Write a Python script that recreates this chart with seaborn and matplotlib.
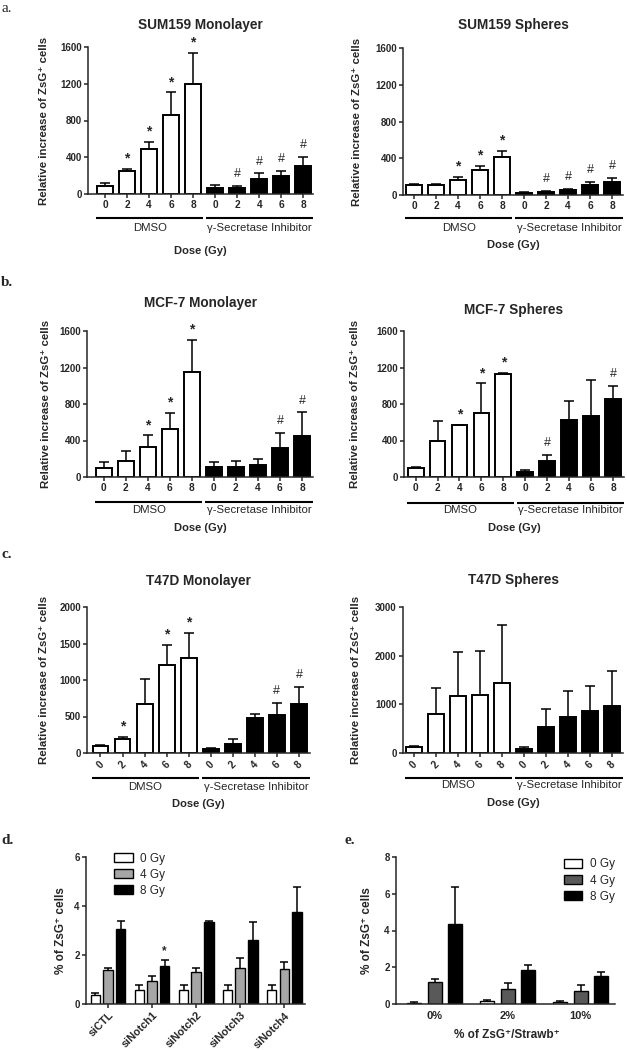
import numpy as np
import pandas as pd
import matplotlib
matplotlib.use("Agg")
import matplotlib.pyplot as plt
import matplotlib.transforms as mtransforms
from matplotlib.patches import Patch
import seaborn as sns

sns.set_style("ticks")
plt.rcParams["font.family"] = ["Liberation Sans", "DejaVu Sans"]

# ---------------- data ----------------
doses = ["0", "2", "4", "6", "8"]
treatments = ["DMSO", "γ-Secretase Inhibitor"]

sum159_mono = [85, 255, 495, 860, 1200, 70, 70, 160, 195, 305]
sum159_mono_err = [35, 15, 70, 245, 330, 25, 20, 65, 60, 100]
sum159_mono_sig = ["", "*", "*", "*", "*", "", "#", "#", "#", "#"]

sum159_sph = [105, 110, 160, 270, 415, 25, 35, 50, 105, 140]
sum159_sph_err = [10, 8, 35, 50, 65, 5, 8, 18, 40, 50]
sum159_sph_sig = ["", "", "*", "*", "*", "", "#", "#", "#", "#"]

mcf7_mono = [100, 180, 325, 530, 1155, 110, 110, 135, 320, 450]
mcf7_mono_err = [65, 100, 130, 170, 350, 55, 70, 65, 165, 260]
mcf7_mono_sig = ["", "", "*", "*", "*", "", "", "", "#", "#"]

mcf7_sph = [100, 400, 565, 705, 1125, 60, 175, 625, 670, 860]
mcf7_sph_err = [5, 210, 8, 320, 15, 20, 70, 210, 390, 140]
mcf7_sph_sig = ["", "", "*", "*", "*", "", "#", "", "", "#"]

t47d_mono = [100, 190, 675, 1200, 1305, 60, 120, 475, 520, 665]
t47d_mono_err = [5, 25, 340, 275, 340, 15, 65, 55, 165, 240]
t47d_mono_sig = ["", "*", "", "*", "*", "", "", "", "#", "#"]

t47d_sph = [130, 800, 1170, 1200, 1445, 85, 530, 735, 865, 975]
t47d_sph_err = [20, 535, 905, 900, 1180, 40, 380, 530, 510, 720]
t47d_sph_sig = [""] * 10

# panel d: siRNA knockdown
sirna = ["siCTL", "siNotch1", "siNotch2", "siNotch3", "siNotch4"]
gy_levels = ["0 Gy", "4 Gy", "8 Gy"]
notch_0 = [0.38, 0.58, 0.58, 0.58, 0.58]
notch_0_err = [0.05, 0.20, 0.20, 0.20, 0.20]
notch_4 = [1.37, 0.93, 1.30, 1.45, 1.43]
notch_4_err = [0.10, 0.20, 0.18, 0.42, 0.27]
notch_8 = [3.05, 1.55, 3.35, 2.60, 3.75]
notch_8_err = [0.35, 0.25, 0.04, 0.75, 1.03]

# panel e: mixing ratio
mix = ["0%", "2%", "10%"]
mix_0 = [0.08, 0.18, 0.13]
mix_0_err = [0.03, 0.05, 0.05]
mix_4 = [1.22, 0.80, 0.72]
mix_4_err = [0.15, 0.33, 0.30]
mix_8 = [4.36, 1.83, 1.52]
mix_8_err = [2.00, 0.30, 0.20]

# ---------------- figure ----------------
W, H = 627, 1050
fig = plt.figure(figsize=(W / 100, H / 100), dpi=100)


def fx(x):
    return x / W


def fy(y):
    return 1 - y / H


def add_box(box):
    l, t, r, b = box
    return fig.add_axes([l / W, 1 - b / H, (r - l) / W, (b - t) / H])


def style_axes(ax, yticks, ylabel, ylab_x, box, ysize=8.2):
    l, t, r, b = box
    ax.set_ylim(0, yticks[-1])
    ax.set_yticks(yticks, labels=[str(v) for v in yticks], fontweight="bold")
    sns.despine(ax=ax)
    for s in ax.spines.values():
        s.set_linewidth(1.1)
    ax.tick_params(length=3, width=1.1, pad=1.5, labelsize=7)
    ax.set_xlabel("")
    ax.set_ylabel(ylabel, fontsize=ysize, fontweight="bold")
    ax.yaxis.set_label_coords((ylab_x - l) / (r - l), 0.5)
    ax.yaxis.label.set_va("center")


def add_errors(ax, xs, vals, errs, capsize=3.3):
    eb = ax.errorbar(xs, vals, yerr=[np.zeros(len(vals)), errs], fmt="none",
                     ecolor="black", elinewidth=1.1, capsize=capsize, capthick=1.1)
    eb[1][0].set_visible(False)


def dose_panel(box, xlim, vals, errs, sig, yticks, title, title_y, ylab_x,
               line_y, group_y, dose_y, rotate=False):
    l, t, r, b = box
    ax = add_box(box)
    conds = [f"{g}|{d}" for g in treatments for d in doses]
    df = pd.DataFrame({"cond": conds,
                       "group": np.repeat(treatments, len(doses)),
                       "value": vals})
    sns.barplot(data=df, x="cond", y="value", hue="group", order=conds,
                hue_order=treatments, palette=["white", "black"], dodge=False,
                width=0.72, saturation=1, edgecolor="black", linewidth=1.4,
                errorbar=None, legend=False, ax=ax)
    bars = sorted([p for c in ax.containers for p in c], key=lambda p: p.get_x())
    xs = np.array([p.get_x() + p.get_width() / 2 for p in bars])
    add_errors(ax, xs, vals, errs)

    for x, v, e, s in zip(xs, vals, errs, sig):
        if s == "*":
            ax.annotate("*", (x, v + e), xytext=(0, 2.5), textcoords="offset points",
                        ha="center", va="bottom", fontsize=10, fontweight="bold")
        elif s == "#":
            ax.annotate("#", (x, v + e), xytext=(0, 4), textcoords="offset points",
                        ha="center", va="bottom", fontsize=9)

    ax.set_xlim(*xlim)
    style_axes(ax, yticks, "Relative increase of ZsG⁺ cells", ylab_x, box)
    ax.set_xticks(range(len(conds)), labels=doses * 2, fontweight="bold", fontsize=7.3,
                  rotation=45 if rotate else 0)

    # group brackets under the axis
    ah = b - t
    trans = mtransforms.blended_transform_factory(ax.transData, ax.transAxes)
    yl = -(line_y - b) / ah
    yt = -(group_y - b) / ah
    for (x0, x1), name in zip([(-0.4, 4.47), (4.6, xlim[1])], treatments):
        ax.plot([x0, x1], [yl, yl], transform=trans, color="black", lw=1.5,
                clip_on=False, solid_capstyle="butt")
        ax.text((x0 + x1) / 2, yt, name, transform=trans, ha="center",
                va="center", fontsize=8.2)

    fig.text(fx((l + r) / 2), fy(dose_y), "Dose (Gy)", ha="center", va="center",
             fontsize=8, fontweight="bold")
    fig.text(fx((l + r) / 2), fy(title_y), title, ha="center", va="baseline",
             fontsize=9.8, fontweight="bold")
    return ax


def gy_panel(box, xlim, cats, series, errs, colors, yticks, ylabel, ylab_x,
             width, gap, legend_anchor, legend_loc):
    ax = add_box(box)
    rows = []
    for lev, vals in zip(gy_levels, series):
        for c, v in zip(cats, vals):
            rows.append((c, lev, v))
    df = pd.DataFrame(rows, columns=["cat", "gy", "value"])
    sns.barplot(data=df, x="cat", y="value", hue="gy", order=cats,
                hue_order=gy_levels, palette=colors, width=width, gap=gap,
                saturation=1, edgecolor="black", linewidth=1.0, errorbar=None,
                legend=False, ax=ax)
    for cont, vals, es in zip(ax.containers, series, errs):
        xs = [p.get_x() + p.get_width() / 2 for p in cont]
        add_errors(ax, xs, vals, es, capsize=2.8)
    ax.set_xlim(*xlim)
    style_axes(ax, yticks, ylabel, ylab_x, box, ysize=8.5)
    handles = [Patch(facecolor=c, edgecolor="black", linewidth=1.0) for c in colors]
    ax.legend(handles, gy_levels, loc=legend_loc, bbox_to_anchor=legend_anchor,
              frameon=False, fontsize=8.5, handlelength=1.6, handleheight=0.75,
              handletextpad=0.6, labelspacing=0.35, borderpad=0, borderaxespad=0)
    return ax


# ---- row a ----
dose_panel((88, 47, 313, 194), (-0.77, 9.44), sum159_mono, sum159_mono_err,
           sum159_mono_sig, [0, 400, 800, 1200, 1600], "SUM159 Monolayer",
           29, 44, 218, 228, 251)
dose_panel((403, 48, 623, 195), (-0.5, 9.5), sum159_sph, sum159_sph_err,
           sum159_sph_sig, [0, 400, 800, 1200, 1600], "SUM159 Spheres",
           28.7, 357, 218, 228, 245)

# ---- row b ----
dose_panel((87, 331, 313, 477), (-0.76, 9.5), mcf7_mono, mcf7_mono_err,
           mcf7_mono_sig, [0, 400, 800, 1200, 1600], "MCF-7 Monolayer",
           306.7, 46, 502, 510, 528)
dose_panel((404, 331, 624, 477), (-0.53, 9.5), mcf7_sph, mcf7_sph_err,
           mcf7_sph_sig, [0, 400, 800, 1200, 1600], "MCF-7 Spheres",
           314, 355, 502.7, 510, 528)

# ---- row c ----
dose_panel((87, 607, 310, 753), (-0.61, 9.5), t47d_mono, t47d_mono_err,
           t47d_mono_sig, [0, 500, 1000, 1500, 2000], "T47D Monolayer",
           585, 44, 778, 787, 804, rotate=True)
dose_panel((403, 607, 623, 753), (-0.48, 9.5), t47d_sph, t47d_sph_err,
           t47d_sph_sig, [0, 1000, 2000, 3000], "T47D Spheres",
           584, 356, 778, 785, 803, rotate=True)

# ---- row d / e ----
axd = gy_panel((86, 857, 305, 1004), (-0.5, 4.47), sirna,
               [notch_0, notch_4, notch_8], [notch_0_err, notch_4_err, notch_8_err],
               ["white", "#a6a6a6", "black"], [0, 2, 4, 6], "% of ZsG⁺ cells", 61,
               0.86, 0.25, (0.13, 1.03), "upper left")
axd.set_xticks(range(len(sirna)), labels=sirna, rotation=45, ha="right",
               rotation_mode="anchor", fontweight="bold", fontsize=7.8)
p = axd.containers[2][1]
axd.annotate("*", (p.get_x() + p.get_width() / 2, notch_8[1] + notch_8_err[1]),
             xytext=(0, 2), textcoords="offset points", ha="center", va="bottom",
             fontsize=8.5, fontweight="bold")

axe = gy_panel((396, 857, 615, 1004), (-0.53, 2.47), mix,
               [mix_0, mix_4, mix_8], [mix_0_err, mix_4_err, mix_8_err],
               ["white", "#595959", "black"], [0, 2, 4, 6, 8], "% of ZsG⁺ cells", 367.5,
               0.85, 0.33, (0.765, 0.99), "upper left")
axe.set_xticks(range(len(mix)), labels=mix, fontweight="bold", fontsize=8)
axe.tick_params(axis="x", length=0, pad=5)
fig.text(fx(507), fy(1035), "% of ZsG⁺/Strawb⁺", ha="center", va="center",
         fontsize=8.5, fontweight="bold")

# ---- panel letters ----
serif = ["Liberation Serif", "DejaVu Serif"]
fig.text(fx(1), fy(8), "a.", family=serif, fontsize=11, va="center")
for letter, x, y in [("b.", 1, 283), ("c.", 1, 555), ("d.", 1, 840), ("e.", 344, 840)]:
    fig.text(fx(x), fy(y), letter, family=serif, fontsize=11, fontweight="bold",
             va="center")

fig.savefig("out.png", dpi=100)
